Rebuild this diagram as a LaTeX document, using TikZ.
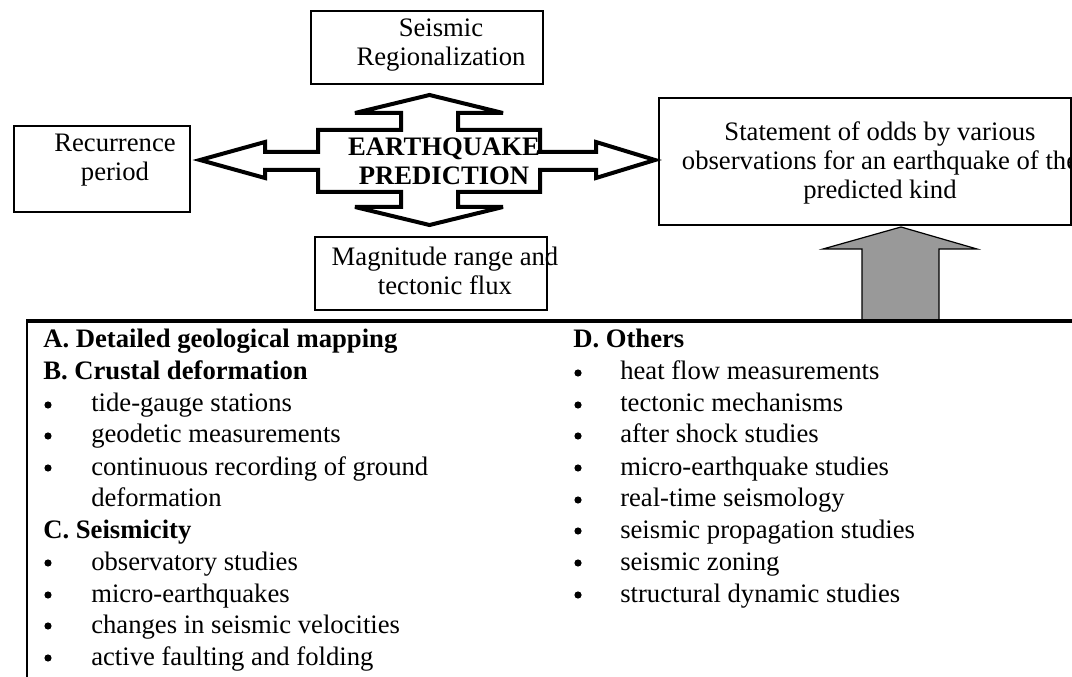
\documentclass[tikz,border=0pt]{standalone}
\usepackage{fontspec}
\setmainfont{Liberation Serif}
\usepackage{tikz}

\tikzset{
  box/.style={draw, line width=0.9pt, inner sep=0pt},
  txt/.style={align=center, inner sep=0pt, font=\fontsize{20}{22}\selectfont},
  head/.style={anchor=base west, inner sep=0pt, font=\fontsize{20}{24}\selectfont\bfseries},
  itm/.style={anchor=base west, inner sep=0pt, font=\fontsize{20}{24}\selectfont},
  dot/.style={circle, fill, inner sep=0pt, minimum size=5.4pt}
}

\begin{document}
\begin{tikzpicture}[x=0.75pt, y=-0.75pt]
\useasboundingbox (0,0) rectangle (1072,677);

% boxes round the prediction
\node [box, minimum width=174pt, minimum height=54.75pt] (seis) at (427, 47.5) {};
\node [box, minimum width=132pt, minimum height=64.5pt] (rec) at (102, 169) {};
\node [box, minimum width=174pt, minimum height=54.75pt] (mag) at (431, 273.5) {};
\node [box, minimum width=309pt, minimum height=95.25pt] (stmt) at (865, 161.5) {};

\node [txt] (seisT) at (441, 45) {Seismic\\Regionalization};
\node [txt] (recT) at (115, 160) {Recurrence\\period};
\node [txt] (magT) at (445, 271) {Magnitude range and\\tectonic flux};
\node [txt] (stmtT) at (880, 163) {Statement of odds by various\\observations for an earthquake of the\\predicted kind};

% four-way arrow
\draw [line width=3pt, miter limit=4] (200,160) -- (265,142) -- (265,152) -- (318,152) -- (318,130)
  -- (401,130) -- (401,113) -- (355,113) -- (429.5,95) -- (503,113) -- (458,113) -- (458,130)
  -- (540,130) -- (540,152) -- (596,152) -- (596,142) -- (655,160) -- (596,178) -- (596,170)
  -- (540,170) -- (540,192) -- (458,192) -- (458,207) -- (503,207) -- (429.5,225) -- (355,207)
  -- (401,207) -- (401,192) -- (318,192) -- (318,170) -- (265,170) -- (265,178) -- cycle;
\node [txt, font=\fontsize{20}{22}\selectfont\bfseries] (pred) at (444, 161.5) {EARTHQUAKE\\PREDICTION};

% grey arrow up to the statement
\draw [fill=black!40, line width=0.9pt] (862,321) -- (862,249) -- (823,249) -- (901,227)
  -- (977,249) -- (939,249) -- (939,321);

% list box
\draw [line width=0.9pt] (27,700) -- (27,321);
\draw [line width=2.6pt] (26,321) -- (1080,321);

\node [head] (hA) at (43, 348) {A. Detailed geological mapping};
\node [head] (hB) at (43, 380) {B. Crustal deformation};
\node [dot] at (48, 405) {};
\node [itm] (b1) at (91, 412) {tide-gauge stations};
\node [dot] at (48, 436) {};
\node [itm] (b2) at (91, 443) {geodetic measurements};
\node [dot] at (48, 468) {};
\node [itm] (b3) at (91, 475) {continuous recording of ground};
\node [itm] (b3b) at (91, 507) {deformation};
\node [head] (hC) at (43, 538) {C. Seismicity};
\node [dot] at (48, 563) {};
\node [itm] (c1) at (91, 570) {observatory studies};
\node [dot] at (48, 595) {};
\node [itm] (c2) at (91, 602) {micro-earthquakes};
\node [dot] at (48, 626) {};
\node [itm] (c3) at (91, 633) {changes in seismic velocities};
\node [dot] at (48, 658) {};
\node [itm] (c4) at (91, 665) {active faulting and folding};

\node [head] (hD) at (573, 348) {D. Others};
\node [dot] at (578, 373) {};
\node [itm] (d1) at (620, 380) {heat flow measurements};
\node [dot] at (578, 405) {};
\node [itm] (d2) at (620, 412) {tectonic mechanisms};
\node [dot] at (578, 436) {};
\node [itm] (d3) at (620, 443) {after shock studies};
\node [dot] at (578, 468) {};
\node [itm] (d4) at (620, 475) {micro-earthquake studies};
\node [dot] at (578, 500) {};
\node [itm] (d5) at (620, 507) {real-time seismology};
\node [dot] at (578, 531) {};
\node [itm] (d6) at (620, 538) {seismic propagation studies};
\node [dot] at (578, 563) {};
\node [itm] (d7) at (620, 570) {seismic zoning};
\node [dot] at (578, 595) {};
\node [itm] (d8) at (620, 602) {structural dynamic studies};
\end{tikzpicture}
\end{document}
